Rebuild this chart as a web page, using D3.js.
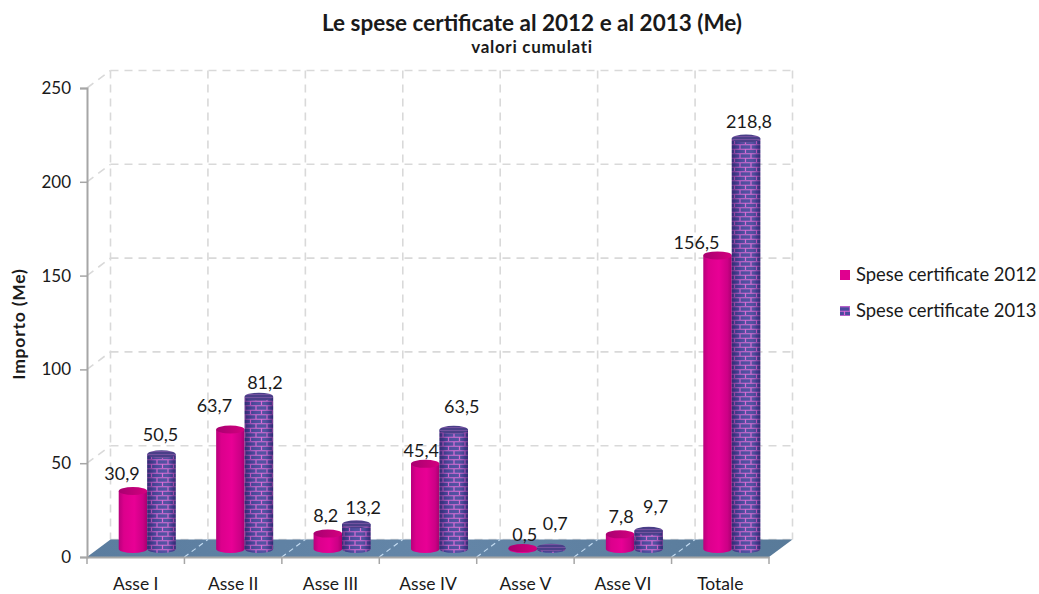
<!DOCTYPE html>
<html><head><meta charset="utf-8">
<script src="https://cdn.jsdelivr.net/npm/d3@7/dist/d3.min.js"></script>
<style>html,body{margin:0;padding:0;background:#fff}svg{display:block}text{font-family:Lato,"Open Sans",sans-serif;fill:#1a1a1a}</style>
</head><body><svg id="c" width="1039" height="594"></svg>
<script>
const categories=["Asse I","Asse II","Asse III","Asse IV","Asse V","Asse VI","Totale"];
const seriesNames=["Spese certificate 2012","Spese certificate 2013"];
const spese2012=[30.9,63.7,8.2,45.4,0.5,7.8,156.5];
const spese2013=[50.5,81.2,13.2,63.5,0.7,9.7,218.8];
const yTicks=[0,50,100,150,200,250];
const titleText="Le spese certificate al 2012 e al 2013 (Me)";
const subtitleText="valori cumulati";
const yTitle="Importo (Me)";
// label nudges from the default spot above each column
const nudge2012=[[-11,-17],[-16,-24],[-2,-18],[-4,-13],[2,-13],[1,-18],[-21,-13]];
const nudge2013=[[-1,-20],[6,-14],[7,-17],[8,-23],[4,-24],[7,-24],[3,-17]];

const svg=d3.select("#c");
const defs=svg.append("defs");
const L=87,R=769,B=557,T=88,dx=23.5,dy=-17.5;
const x=d3.scaleBand().domain(categories).range([L,R]).padding(0);
const y=d3.scaleLinear().domain([0,250]).range([B,T]);
const fmt=v=>String(v.toFixed(1)).replace(".",",");

function grad(id,stops,dir){const g=defs.append("linearGradient").attr("id",id);
 if(dir==="v")g.attr("x1",0).attr("x2",0).attr("y1",0).attr("y2",1);
 stops.forEach(s=>g.append("stop").attr("offset",s[0]).attr("stop-color",s[1]).attr("stop-opacity",s[2]===undefined?1:s[2]));}
grad("pinkBody",[[0,"#b8007c"],[.18,"#dc008c"],[.55,"#e80095"],[.85,"#cc0086"],[1,"#a8006f"]]);
grad("pinkTop",[[0,"#a80070"],[1,"#d4007f"]]);
grad("shade",[[0,"#1d1050",.55],[.25,"#1d1050",.12],[.6,"#fff",.04],[.85,"#1d1050",.18],[1,"#1d1050",.55]]);
grad("floor",[[0,"#5b7d9f"],[.5,"#6486a8"],[1,"#587a99"]]);
const p=defs.append("pattern").attr("id","brick").attr("patternUnits","userSpaceOnUse").attr("width",11).attr("height",9);
p.append("rect").attr("width",11).attr("height",9).attr("fill","#4b4a9e");
p.append("path").attr("d","M0 .75H11M0 5.25H11M3 .75V5.25M8.5 5.25V9").attr("stroke","#d968d6").attr("stroke-width",1.2).attr("fill","none");
const pt=defs.append("pattern").attr("id","brickTop").attr("patternUnits","userSpaceOnUse").attr("width",6).attr("height",3);
pt.append("rect").attr("width",6).attr("height",3).attr("fill","#4a3f88");
pt.append("path").attr("d","M0 1.5H6").attr("stroke","#7d55a5").attr("stroke-width",.8);

// walls' gridlines
const grid=svg.append("g").attr("fill","none").attr("stroke","#d9d9d9").attr("stroke-width",1.6).attr("stroke-dasharray","8 6");
yTicks.forEach(t=>{
  grid.append("line").attr("x1",L+dx).attr("x2",R+dx).attr("y1",y(t)+dy).attr("y2",y(t)+dy);
  if(t>0)grid.append("line").attr("x1",L).attr("x2",L+dx).attr("y1",y(t)).attr("y2",y(t)+dy);
});
const edges=categories.map(c=>x(c)).concat([R]);
edges.forEach(e=>grid.append("line").attr("x1",e+dx).attr("x2",e+dx).attr("y1",T+dy).attr("y2",B+dy));

// floor
svg.append("path").attr("d",`M${L} ${B}L${L+dx} ${B+dy}H${R+dx}L${R} ${B}Z`).attr("fill","url(#floor)");
const fl=svg.append("g").attr("stroke","#c4dcf2").attr("stroke-width",1.2).attr("stroke-dasharray","5 4");
edges.slice(1,-1).forEach(e=>fl.append("line").attr("x1",e).attr("x2",e+dx).attr("y1",B).attr("y2",B+dy));

// cylinders
const w=28.5,ry=4,off=11.5,h=y(0)-y(1);
const baseY=549;
function col(cx,v,body,top,over){
  const ty=baseY-v*h;
  const g=svg.append("g");
  g.append("path").attr("d",`M${cx-w/2} ${ty}V${baseY}A${w/2} ${ry} 0 0 0 ${cx+w/2} ${baseY}V${ty}Z`).attr("fill",body);
  if(over)g.append("path").attr("d",`M${cx-w/2} ${ty}V${baseY}A${w/2} ${ry} 0 0 0 ${cx+w/2} ${baseY}V${ty}Z`).attr("fill","url(#shade)");
  g.append("ellipse").attr("cx",cx).attr("cy",ty).attr("rx",w/2).attr("ry",ry).attr("fill",top);
}
categories.forEach((c,i)=>{
  const mid=x(c)+x.bandwidth()/2+off;
  col(mid-w/2,spese2012[i],"url(#pinkBody)","url(#pinkTop)",false);
  col(mid+w/2,spese2013[i],"url(#brick)","url(#brickTop)",true);
});

// labels
const lab=svg.append("g").attr("font-size",18).attr("text-anchor","middle");
categories.forEach((c,i)=>{
  const mid=x(c)+x.bandwidth()/2+off;
  [[spese2012,nudge2012,mid-w/2],[spese2013,nudge2013,mid+w/2]].forEach(([s,n,cx])=>{
    lab.append("text").attr("x",cx+n[i][0]).attr("y",baseY-s[i]*h+n[i][1]).attr("dy","0.35em").text(fmt(s[i]));
  });
});

// axes
const ya=svg.append("g").attr("transform",`translate(${L},0)`).call(d3.axisLeft(y).tickValues(yTicks).tickSize(7).tickPadding(9));
ya.select(".domain").attr("stroke","#a6a6a6").attr("stroke-width",2);
ya.selectAll(".tick line").attr("stroke","#a6a6a6").attr("stroke-width",1.5);
ya.selectAll("text").attr("font-size",17).style("font-family","Lato,sans-serif").attr("fill","#1a1a1a");
const xa=svg.append("g").attr("transform",`translate(0,${B})`).call(d3.axisBottom(x).tickSize(0).tickPadding(21));
xa.select(".domain").attr("stroke","#a6a6a6").attr("stroke-width",2);
xa.selectAll("text").attr("font-size",17.5).style("font-family","Lato,sans-serif").attr("fill","#1a1a1a");
xa.selectAll(".tickEdge").data(edges).enter().append("line").attr("x1",d=>d).attr("x2",d=>d).attr("y1",0).attr("y2",7).attr("stroke","#a6a6a6").attr("stroke-width",1.5);

// titles
svg.append("text").attr("x",532).attr("y",31).attr("text-anchor","middle").attr("font-size",22.5).attr("font-weight",700).text(titleText);
svg.append("text").attr("x",532).attr("y",53).attr("text-anchor","middle").attr("font-size",17).attr("letter-spacing",".7").attr("font-weight",700).text(subtitleText);
svg.append("text").attr("transform","translate(25,324) rotate(-90)").attr("text-anchor","middle").attr("font-size",17.5).attr("letter-spacing",".8").attr("font-weight",700).text(yTitle);

// legend
const ly=d3.scalePoint().domain(seriesNames).range([275,311]);
seriesNames.forEach((n,i)=>{
  svg.append("rect").attr("x",840).attr("y",ly(n)-5).attr("width",10).attr("height",10).attr("fill",i?"url(#brick)":"#e0008f");
  svg.append("text").attr("x",856).attr("y",ly(n)).attr("dy","0.35em").attr("font-size",18.4).text(n);
});
</script></body></html>
